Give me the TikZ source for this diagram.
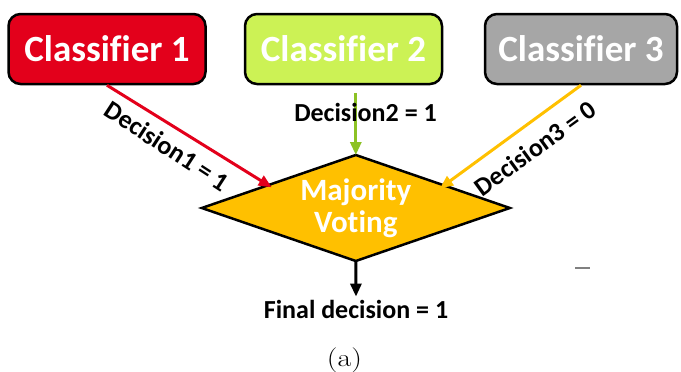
\documentclass[tikz,border=0pt]{standalone}
\usepackage{graphicx}
\usepackage{fontspec}
\newfontfamily\calibri{Carlito}[Ligatures=CommonOff]
\usetikzlibrary{shapes.geometric,arrows.meta,calc}

\definecolor{clsred}{HTML}{E3001B}
\definecolor{clslime}{HTML}{CCF255}
\definecolor{clsgrey}{HTML}{A6A6A6}
\definecolor{voteamber}{HTML}{FFC000}
\definecolor{votegreen}{HTML}{8CC224}

\begin{document}
\begin{tikzpicture}[x=1pt,y=-1pt,
  clsbox/.style={draw=black, line width=2.5pt, rounded corners=12pt,
    minimum height=70pt, inner sep=0pt, text=white,
    font=\calibri\bfseries\fontsize{37}{40}\selectfont},
  votebox/.style={diamond, draw=black, line width=2.5pt, fill=voteamber,
    minimum width=308pt, minimum height=106pt, inner sep=0pt, outer sep=0pt},
  votetext/.style={text=white, align=center, inner sep=0pt,
    font=\calibri\bfseries\fontsize{31}{32}\selectfont},
  decision/.style={inner sep=3pt, text=black,
    font=\calibri\bfseries\fontsize{26}{28}\selectfont},
  vote/.style={line width=3pt,
    -{Triangle[length=13pt,width=11pt]}},
]
\useasboundingbox (0,0) rectangle (681,372);

% classifiers
\node[clsbox, fill=clsred,  minimum width=197pt] (c1) at (107,49)   {Classifier 1};
\node[clsbox, fill=clslime, minimum width=197pt] (c2) at (343.5,49) {Classifier 2};
\node[clsbox, fill=clsgrey, minimum width=192pt] (c3) at (581,49)   {Classifier 3};

% voting stage
\node[votebox] (vote) at (355.8,208) {};
\node[votetext] (votelabel) at (vote.center) {Majority\\Voting};

% arrow tips resting just inside the diamond
\coordinate (tip1) at (271.7,187.3);
\coordinate (tip3) at (440,188.3);
\coordinate (top2) at ($(c2.south -| vote.north)+(0,7.5)$);

\draw[vote, draw=clsred, fill=clsred] (c1.south) -- (tip1);
\draw[vote, draw=votegreen, fill=votegreen] (top2) -- (vote.north);
\draw[vote, draw=voteamber, fill=voteamber] (c3.south) -- (tip3);

% decision labels
\node[decision, rotate=-33] (d1) at (167,146) {Decision1 = 1};
\node[decision] (d2) at (365.5,112) {Decision2 = 1};
\node[decision, rotate=36] (d3) at (535,148) {Decision3 = 0};

% final outcome
\node[decision] (final) at (356,309) {Final decision = 1};
\draw[vote, draw=black, fill=black] (vote.south) -- (final.north);

% stray mark and caption
\draw[gray, line width=1.2pt] (575,268) -- (590,268);
\node[font=\fontsize{25}{28}\selectfont, inner sep=0pt]
  (cap) at (344.5,360) {\scalebox{1.2}[1]{(a)}};
\end{tikzpicture}
\end{document}
